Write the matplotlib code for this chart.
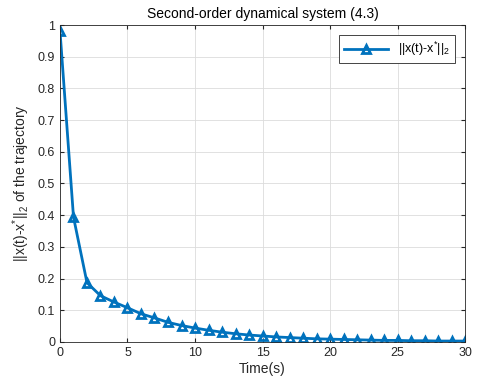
import matplotlib
matplotlib.use("Agg")
import matplotlib.pyplot as plt

# trajectory error norm sampled once per second
time_s = list(range(31))
err_norm = [0.981, 0.394, 0.187, 0.146, 0.126, 0.108, 0.089, 0.076, 0.062, 0.052,
            0.044, 0.037, 0.031, 0.026, 0.022, 0.019, 0.016, 0.014, 0.012, 0.010,
            0.009, 0.008, 0.007, 0.006, 0.005, 0.005, 0.004, 0.004, 0.003, 0.003,
            0.003]
x_ticks = [0, 5, 10, 15, 20, 25, 30]
y_ticks = [0, 0.1, 0.2, 0.3, 0.4, 0.5, 0.6, 0.7, 0.8, 0.9, 1]
y_tick_labels = ["0", "0.1", "0.2", "0.3", "0.4", "0.5", "0.6", "0.7", "0.8", "0.9", "1"]

plt.rcParams["font.family"] = ["Liberation Sans", "DejaVu Sans"]
plt.rcParams["mathtext.fontset"] = "custom"
plt.rcParams["mathtext.rm"] = "Liberation Sans"

axis_grey = "#262626"
blue = "#0072BD"

fig = plt.figure(figsize=(4.85, 3.87), dpi=100)
ax = fig.add_axes([0.1237, 0.1163, 0.8351, 0.8191])

ax.plot(time_s, err_norm, color=blue, linewidth=2, marker="^", markersize=6,
        markerfacecolor="none", markeredgewidth=2,
        label=r"||x(t)-x$^{*}$||$_{2}$")

ax.set_xlim(0, 30)
ax.set_ylim(0, 1)
ax.set_xticks(x_ticks)
ax.set_yticks(y_ticks)
ax.set_yticklabels(y_tick_labels)
ax.tick_params(direction="in", length=3, labelsize=9, colors=axis_grey,
               top=True, right=True)
for s in ax.spines.values():
    s.set_color(axis_grey)
    s.set_linewidth(0.6)
ax.grid(True, color="#dcdcdc", linewidth=0.6)
ax.set_axisbelow(True)

ax.set_title("Second-order dynamical system (4.3)", fontsize=10, color="black", pad=5)
ax.set_xlabel("Time(s)", fontsize=10, color=axis_grey, labelpad=2)
ax.set_ylabel(r"||x(t)-x$^{*}$||$_{2}$ of the trajectory", fontsize=10,
              color=axis_grey, labelpad=4)

leg = ax.legend(loc="upper right", fontsize=9, fancybox=False, framealpha=1,
                edgecolor=axis_grey, handlelength=3.5, borderaxespad=0.8)
leg.get_frame().set_linewidth(0.6)

fig.savefig("out.png", dpi=100)
